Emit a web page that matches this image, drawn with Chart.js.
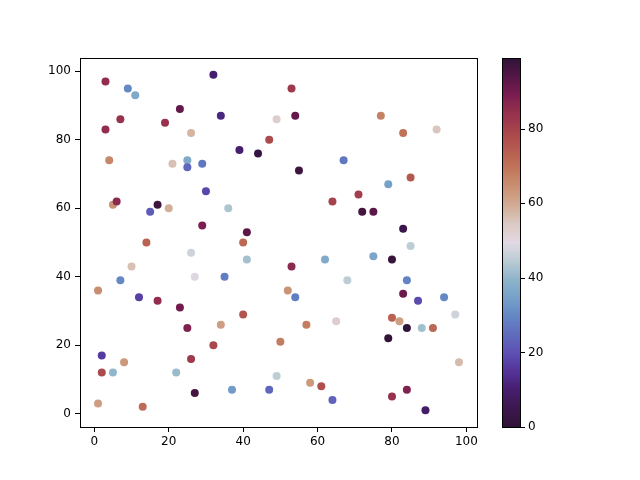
<!DOCTYPE html>
<html><head><meta charset="utf-8">
<script src="https://cdn.jsdelivr.net/npm/chart.js@4.4.0/dist/chart.umd.min.js"></script>
<style>html,body{margin:0;padding:0;background:#fff;}#wrap{width:640px;height:480px;}</style>
</head><body><div id="wrap"><canvas id="c" width="640" height="480"></canvas></div>
<script>
const xValues = [3,9,11,32,23,7,19,34,3,26,49,47,4,21,25,25,29,39,44,30,5,6,17,15,20,36,29,41,
  53,54,55,67,77,83,92,85,79,71,64,72,75,83,
  14,40,26,41,10,7,27,35,1,12,17,23,25,34,40,32,50,2,8,26,2,5,22,49,27,37,47,1,13,
  85,53,62,75,80,68,84,52,54,83,87,94,97,57,65,80,82,84,88,91,79,98,58,61,64,80,84,89];
const yValues = [97,95,93,99,89,86,85,87,83,82,86,80,74,73,74,72,73,77,76,65,61,62,61,59,60,60,55,53,
  95,87,71,74,87,82,83,69,67,64,62,59,59,54,
  50,50,47,45,43,39,40,40,36,34,33,31,25,26,29,20,21,17,15,16,12,12,12,11,6,7,7,3,2,
  49,43,45,46,45,39,39,36,34,35,33,34,29,26,27,28,27,25,25,25,22,15,9,8,4,5,7,1];
const colorValues = [85,30,37,10,92,84,84,12,85,58,53,78,66,56,37,24,27,10,2,18,64,86,97,22,59,43,89,93,
  82,92,97,27,67,70,55,75,35,81,80,96,93,4,
  73,72,47,42,56,30,49,28,65,17,85,90,88,62,76,79,68,16,63,82,78,40,41,45,96,34,24,62,71,
  45,86,37,36,98,45,29,64,28,91,19,30,47,68,53,73,62,99,42,72,0,57,63,77,23,84,88,9];
const xTicks = [0,20,40,60,80,100];
const yTicks = [0,20,40,60,80,100];
const cbTicks = [0,20,40,60,80];

// twilight_shifted colormap anchors
const cmap = [
  [0.00,[0.188,0.078,0.216]],[0.05,[0.235,0.090,0.310]],[0.10,[0.275,0.115,0.430]],
  [0.15,[0.330,0.200,0.600]],[0.20,[0.368,0.310,0.703]],[0.25,[0.375,0.420,0.745]],
  [0.30,[0.390,0.530,0.768]],[0.35,[0.460,0.630,0.785]],[0.40,[0.560,0.705,0.791]],
  [0.45,[0.730,0.800,0.830]],[0.50,[0.886,0.850,0.888]],[0.55,[0.860,0.790,0.770]],
  [0.60,[0.820,0.677,0.581]],[0.65,[0.790,0.570,0.450]],[0.70,[0.757,0.463,0.352]],
  [0.75,[0.715,0.360,0.310]],[0.80,[0.660,0.275,0.300]],[0.85,[0.590,0.190,0.300]],
  [0.90,[0.478,0.112,0.319]],[0.95,[0.330,0.085,0.270]],[1.00,[0.188,0.078,0.216]]
];
function cmapColor(t){
  t=Math.max(0,Math.min(1,t));
  for(let i=1;i<cmap.length;i++){
    if(t<=cmap[i][0]){
      const a=cmap[i-1],b=cmap[i];const f=(t-a[0])/(b[0]-a[0]);
      const c=a[1].map((v,k)=>Math.round(255*(v+(b[1][k]-v)*f)));
      return `rgb(${c[0]},${c[1]},${c[2]})`;
    }
  }
  return 'rgb(48,20,55)';
}
const vmin=Math.min(...colorValues), vmax=Math.max(...colorValues);
const pointColors=colorValues.map(v=>cmapColor((v-vmin)/(vmax-vmin)));
const points=xValues.map((x,i)=>({x:x,y:yValues[i]}));

function pad(arr){const mn=Math.min(...arr),mx=Math.max(...arr),m=0.05*(mx-mn);return [mn-m,mx+m];}
const xr=pad(xValues), yr=pad(yValues);
const FONT={family:'DejaVu Sans',size:12};

const framePlugin={id:'frame',afterDraw(chart){
  const ctx=chart.ctx,a=chart.chartArea;
  ctx.save();ctx.strokeStyle='#000';ctx.lineWidth=1;
  ctx.strokeRect(Math.round(a.left)+0.5,Math.round(a.top)+0.5,Math.round(a.right-a.left),Math.round(a.bottom-a.top));
  // colorbar
  const x0=502,x1=520,top=a.top,bot=a.bottom;
  for(let py=Math.floor(top);py<bot;py++){
    const t=(bot-(py+0.5))/(bot-top);
    ctx.fillStyle=cmapColor(t);ctx.fillRect(x0,py,x1-x0,1);
  }
  ctx.strokeRect(x0+0.5,Math.round(top)+0.5,x1-x0,Math.round(bot-top));
  ctx.fillStyle='#000';ctx.font='12px "DejaVu Sans"';ctx.textAlign='left';ctx.textBaseline='middle';
  cbTicks.forEach(v=>{
    const py=bot-(v-vmin)/(vmax-vmin)*(bot-top);
    ctx.beginPath();ctx.moveTo(x1+0.5,Math.round(py)+0.5);ctx.lineTo(x1+5,Math.round(py)+0.5);ctx.stroke();
    ctx.fillText(String(v),x1+8,py);
  });
  ctx.restore();
}};

new Chart(document.getElementById('c'),{
  type:'scatter',
  data:{datasets:[{data:points,backgroundColor:pointColors,borderWidth:0,pointRadius:4,pointHoverRadius:4}]},
  options:{
    responsive:false,animation:false,devicePixelRatio:1,
    layout:{padding:{left:0,right:163,top:58,bottom:0}},
    plugins:{legend:{display:false},tooltip:{enabled:false}},
    scales:{
      x:{type:'linear',min:xr[0],max:xr[1],
        afterBuildTicks:s=>{s.ticks=xTicks.map(v=>({value:v}));},
        afterFit:s=>{s.height=53;},
        grid:{drawOnChartArea:false,drawTicks:true,tickLength:5,tickColor:'#000',tickWidth:1},
        border:{display:true,color:'#000',width:1},
        ticks:{color:'#000',font:FONT,padding:3,maxRotation:0}},
      y:{type:'linear',min:yr[0],max:yr[1],
        afterBuildTicks:s=>{s.ticks=yTicks.map(v=>({value:v}));},
        afterFit:s=>{s.width=80;},
        grid:{drawOnChartArea:false,drawTicks:true,tickLength:5,tickColor:'#000',tickWidth:1},
        border:{display:true,color:'#000',width:1},
        ticks:{color:'#000',font:FONT,padding:4}}
    }
  },
  plugins:[framePlugin]
});
</script></body></html>
